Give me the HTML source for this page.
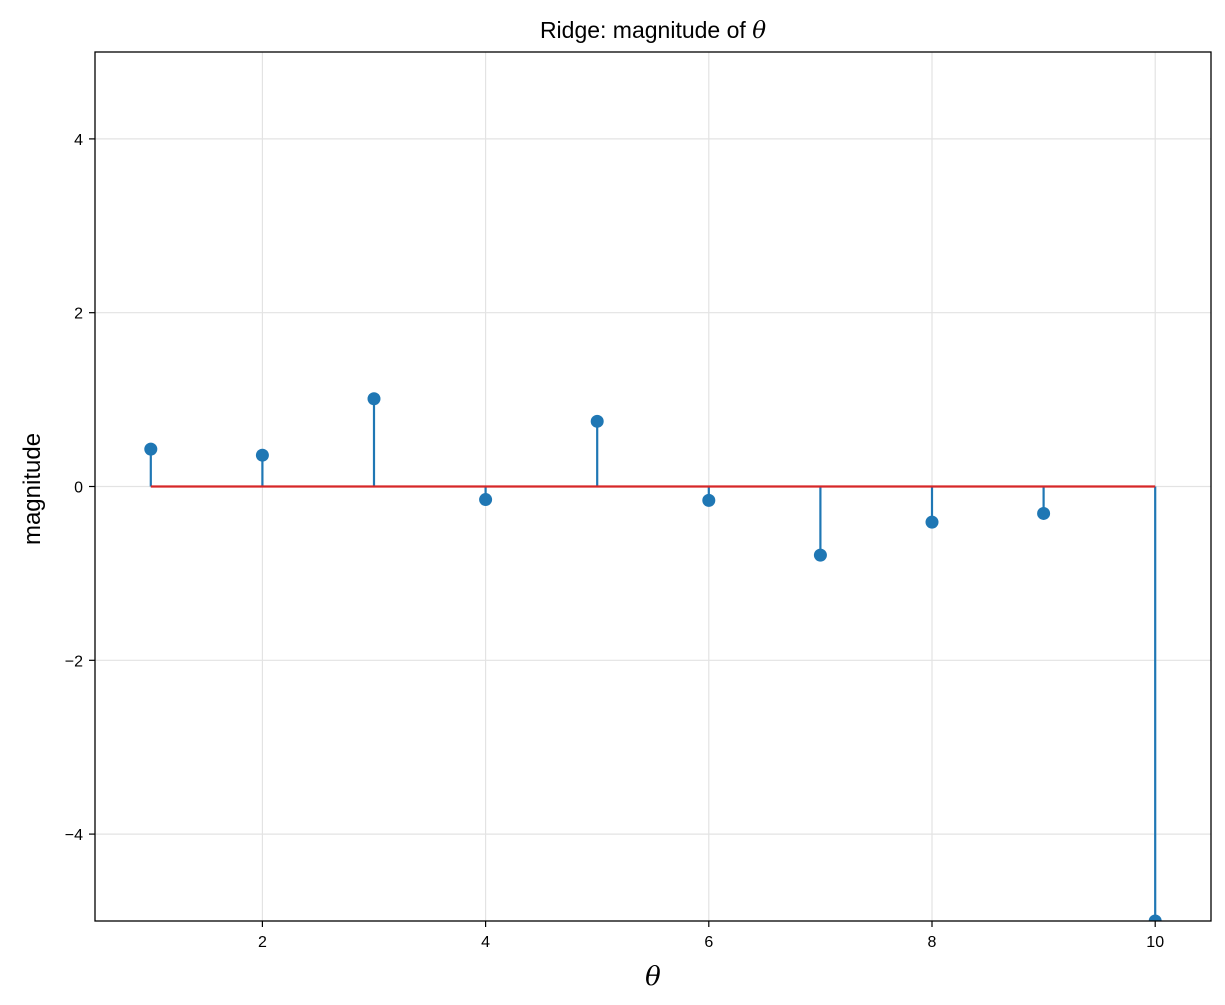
<!DOCTYPE html>
<html><head><meta charset="utf-8"><style>
body{margin:0;background:#fff;}
svg{display:block;font-family:"Liberation Sans","DejaVu Sans",sans-serif;}
</style></head><body>
<svg id="chart" width="1225" height="1005">
<defs><clipPath id="plotclip"><rect x="95" y="52" width="1116" height="869"/></clipPath></defs>
<text x="653" y="38" font-size="23" text-anchor="middle">Ridge: magnitude of <tspan font-family="'DejaVu Serif',serif" font-style="italic">θ</tspan></text>
<g id="grid"></g>
<g id="ticks"></g>
<g id="marks" clip-path="url(#plotclip)"></g>
<rect x="95" y="52" width="1116" height="869" fill="none" stroke="#000" stroke-width="1.3"/>
<text x="653" y="985" font-size="26" text-anchor="middle" font-style="italic" font-family="'DejaVu Serif',serif">θ</text>
<text transform="translate(40,489) rotate(-90)" font-size="24" text-anchor="middle">magnitude</text>
</svg>
<script>
const categories=[1,2,3,4,5,6,7,8,9,10];
const values=[0.43,0.36,1.01,-0.15,0.75,-0.16,-0.79,-0.41,-0.31,-5.0];
const xTicks=[2,4,6,8,10];
const yTicks=[-4,-2,0,2,4];
const X0=95,X1=1211,Y0=52,Y1=921;
const xmin=0.5,xmax=10.5,ymin=-5,ymax=5;
const sx=v=>X0+(v-xmin)/(xmax-xmin)*(X1-X0);
const sy=v=>Y1-(v-ymin)/(ymax-ymin)*(Y1-Y0);
const NS="http://www.w3.org/2000/svg";
function mk(tag,attrs,parent){const e=document.createElementNS(NS,tag);for(const k in attrs)e.setAttribute(k,attrs[k]);document.getElementById(parent).appendChild(e);return e;}
xTicks.forEach(t=>{
  const g=mk('line',{x1:sx(t),x2:sx(t),y1:Y0,y2:Y1,stroke:'#e3e3e3','stroke-width':1.2},'grid');
  
  
  const k=mk('line',{x1:sx(t),x2:sx(t),y1:Y1,y2:Y1+6,stroke:'#000','stroke-width':1.2},'ticks');
  
  
  const l=mk('text',{x:sx(t),y:Y1+26,'font-size':16,'text-anchor':'middle'},'ticks');
  l.textContent=String(t);
  
  
});
yTicks.forEach(t=>{
  const g=mk('line',{x1:X0,x2:X1,y1:sy(t),y2:sy(t),stroke:'#e3e3e3','stroke-width':1.2},'grid');
  
  
  const k=mk('line',{x1:X0-6,x2:X0,y1:sy(t),y2:sy(t),stroke:'#000','stroke-width':1.2},'ticks');
  
  
  const l=mk('text',{x:X0-12,y:sy(t)+6,'font-size':16,'text-anchor':'end'},'ticks');
  l.textContent=(t<0?'\u2212':'')+Math.abs(t);
  
  
});
categories.forEach((c,i)=>{
  const s=mk('line',{x1:sx(c),x2:sx(c),y1:sy(0),y2:sy(values[i]),stroke:'#1f77b4','stroke-width':2.2},'marks');
  
  
});
const b=mk('line',{x1:sx(categories[0]),x2:sx(categories[categories.length-1]),y1:sy(0),y2:sy(0),stroke:'#d62728','stroke-width':2.2},'marks');


categories.forEach((c,i)=>{
  const m=mk('circle',{cx:sx(c),cy:sy(values[i]),r:6.5,fill:'#1f77b4'},'marks');
  
  
});
</script>
</body></html>
